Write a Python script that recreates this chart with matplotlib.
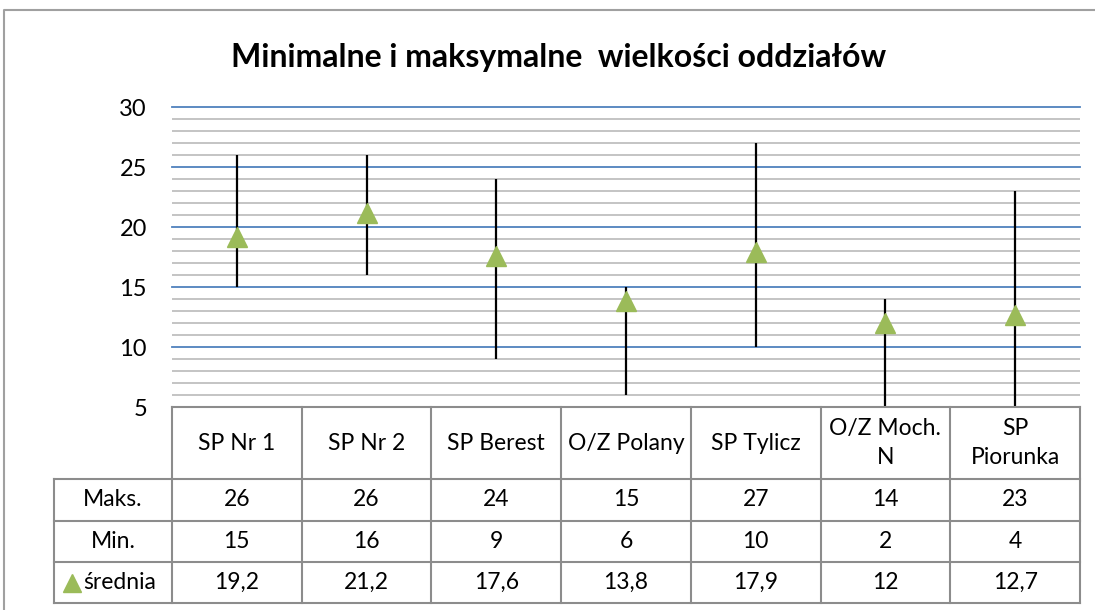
import numpy as np
import matplotlib.pyplot as plt
from matplotlib.lines import Line2D
import matplotlib.transforms as mtransforms

plt.rcParams['font.family'] = ['Lato', 'DejaVu Sans']

# dane
szkoly = ['SP Nr 1', 'SP Nr 2', 'SP Berest', 'O/Z Polany', 'SP Tylicz', 'O/Z Moch.\nN', 'SP\nPiorunka']
maks = [26, 26, 24, 15, 27, 14, 23]
mini = [15, 16, 9, 6, 10, 2, 4]
srednia = [19.2, 21.2, 17.6, 13.8, 17.9, 12, 12.7]
wiersze = ['Maks.', 'Min.', 'średnia']

zielony = '#9BBB59'
szary = '#8C8C8C'

fig = plt.figure(figsize=(10.95, 6.1), dpi=100)
ax = fig.add_axes([172/1095, 1-407/610, 908/1095, 300/610])

x = np.arange(len(szkoly))
ax.set_xlim(-0.5, len(szkoly)-0.5)
ax.set_ylim(5, 30)

# siatka
for v in range(6, 30):
    if v % 5:
        ax.axhline(v, color='#BFBFBF', lw=1.3, zorder=0)
for v in range(10, 31, 5):
    ax.axhline(v, color='#4F81BD', lw=1.3, zorder=0, clip_on=False)

ax.vlines(x, mini, maks, color='black', lw=1.6, zorder=2)
ax.plot(x, srednia, '^', color=zielony, ms=15, mec=zielony, zorder=3, clip_on=False)

ax.set_yticks(range(5, 31, 5))
ax.tick_params(axis='y', length=0, pad=18, labelsize=17)
ax.set_xticks([])
for s in ax.spines.values():
    s.set_visible(False)

fig.text(559/1095, 1-57/610, 'Minimalne i maksymalne  wielkości oddziałów', fontsize=23,
         fontweight='bold', ha='center', va='center')

# tabela danych
tr = mtransforms.blended_transform_factory(ax.transData, ax.transAxes)
def py(p):
    return (407 - p) / 300

x_lab = -0.5 - (172 - 54) / (908 / 7)
granice_y = [py(407), py(479), py(521), py(562), py(603)]
kw = dict(color=szary, lw=1.5, transform=tr, clip_on=False)

# linie poziome
ax.plot([-0.5, len(szkoly)-0.5], [granice_y[0]]*2, **kw)
for gy in granice_y[1:]:
    ax.plot([x_lab, len(szkoly)-0.5], [gy]*2, **kw)
# linie pionowe
for i in range(len(szkoly)+1):
    ax.plot([i-0.5, i-0.5], [granice_y[0], granice_y[-1]], **kw)
ax.plot([x_lab, x_lab], [granice_y[1], granice_y[-1]], **kw)

fs = 16.5
for i, s in enumerate(szkoly):
    ax.text(i, (granice_y[0]+granice_y[1])/2, s, ha='center', va='center',
            fontsize=fs, transform=tr, linespacing=1.45)

for r, vals in enumerate([maks, mini, srednia]):
    yc = (granice_y[r+1] + granice_y[r+2]) / 2
    for i, v in enumerate(vals):
        ax.text(i, yc, f'{v:g}'.replace('.', ','), ha='center', va='center',
                fontsize=fs, transform=tr)

xc = (x_lab - 0.5) / 2
ax.text(xc, (granice_y[1]+granice_y[2])/2, wiersze[0], ha='center', va='center', fontsize=fs, transform=tr)
ax.text(xc, (granice_y[2]+granice_y[3])/2, wiersze[1], ha='center', va='center', fontsize=fs, transform=tr)
yc = (granice_y[3]+granice_y[4])/2
ax.plot([x_lab + 0.135], [yc], '^', color=zielony, ms=13, transform=tr, clip_on=False)
ax.text(x_lab + 0.225, yc, wiersze[2], ha='left', va='center', fontsize=fs, transform=tr)

# ramka wykresu: lewa i górna krawędź
x0, y0 = 4/1095, 1-10/610
fig.lines.append(Line2D([x0, x0, 1], [0, y0, y0], transform=fig.transFigure,
                        color='#A0A0A0', lw=1.5, solid_capstyle='butt'))

fig.savefig('out.png', dpi=100)
